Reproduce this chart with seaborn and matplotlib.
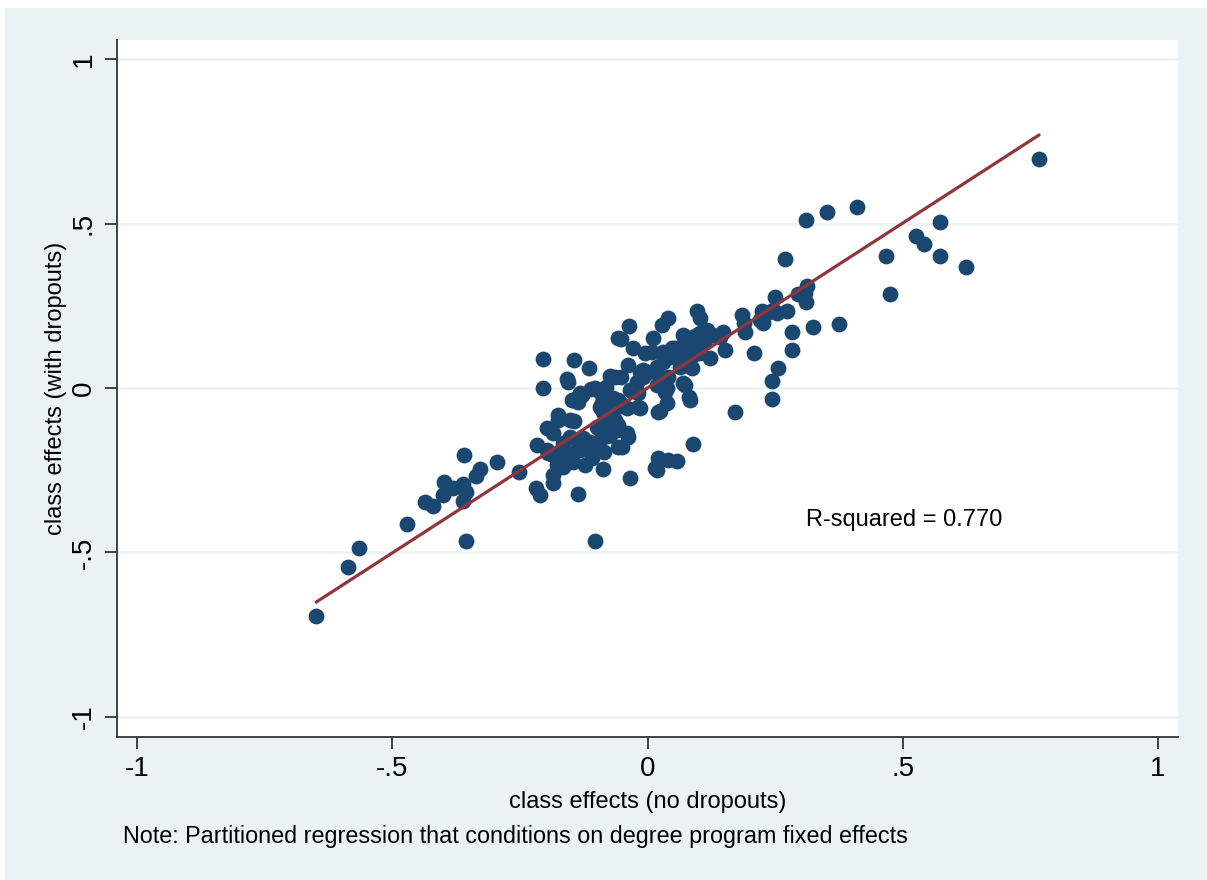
import numpy as np
import pandas as pd
import matplotlib
matplotlib.use("Agg")
import matplotlib.pyplot as plt
from matplotlib.patches import Rectangle
import seaborn as sns

# class effects estimated without / with dropouts
no_dropouts = [
    -0.649, -0.587, -0.565, -0.471, -0.436, -0.420, -0.399, -0.401, -0.381, -0.361,
    -0.356, -0.361, -0.359, -0.356, -0.336, -0.328, -0.295, -0.252, -0.216, -0.218,
    -0.211, -0.197, -0.195, -0.205, -0.205, -0.144, -0.115, -0.158, -0.156, -0.132,
    -0.148, -0.138, -0.111, -0.093, -0.081, -0.073, -0.064, -0.052, -0.038, -0.058,
    -0.052, -0.036, -0.028, 0.011, 0.028, 0.040, 0.097, 0.103, 0.185, 0.191,
    0.209, 0.244, 0.244, 0.256, 0.171, 0.089, 0.021, 0.040, 0.058, 0.019,
    0.015, -0.034, -0.103, -0.136, -0.087, -0.085, -0.185, -0.185, -0.185, -0.175,
    -0.175, -0.152, -0.144, -0.087, -0.079, -0.040, -0.038, -0.058, -0.050, -0.064,
    -0.058, -0.060, -0.073, -0.093, -0.087, -0.079, -0.093, -0.099, -0.015, -0.019,
    0.024, 0.038, 0.073, 0.081, 0.034, 0.034, -0.021, -0.015, -0.009, -0.005,
    0.009, 0.030, 0.048, 0.058, 0.073, 0.089, 0.103, 0.117, 0.128, 0.142,
    0.148, 0.089, 0.103, 0.122, 0.152, 0.064, 0.077, 0.087, 0.019, 0.024,
    0.030, 0.040, 0.220, 0.234, 0.246, 0.226, 0.767, 0.410, 0.352, 0.310,
    0.573, 0.526, 0.542, 0.573, 0.624, 0.467, 0.475, 0.269, 0.312, 0.309,
    0.295, 0.310, 0.250, 0.273, 0.254, 0.224, 0.189, 0.283, 0.324, 0.375,
    0.283, -0.166, -0.152, -0.138, -0.126, -0.113, -0.107, -0.119, -0.132, -0.146,
    -0.158, -0.171, -0.185, -0.166, -0.146, -0.122, -0.109, -0.166, -0.177, -0.191,
    -0.197, -0.146, -0.136, -0.089, -0.077, -0.064, -0.058, -0.060, -0.073, -0.019,
    0.083, -0.103, -0.087, -0.128, -0.068, -0.054, -0.040, -0.034, 0.000, 0.019,
    0.030, 0.044, 0.064, 0.083, 0.093, -0.009, 0.038, 0.024, 0.070, 0.021,
    0.054, 0.077, 0.097, 0.093, 0.113, 0.083, 0.103, 0.070,
]
with_dropouts = [
    -0.693, -0.544, -0.486, -0.413, -0.347, -0.359, -0.286, -0.325, -0.304, -0.292,
    -0.316, -0.344, -0.204, -0.465, -0.268, -0.246, -0.225, -0.255, -0.173, -0.304,
    -0.325, -0.122, -0.198, 0.088, 0.000, 0.085, 0.061, 0.027, 0.018, -0.015,
    -0.036, -0.030, -0.003, -0.012, 0.003, 0.036, 0.033, 0.033, 0.070, 0.152,
    0.149, 0.188, 0.122, 0.152, 0.192, 0.213, 0.234, 0.213, 0.222, 0.170,
    0.106, 0.021, -0.033, 0.061, -0.073, -0.170, -0.213, -0.219, -0.222, -0.249,
    -0.243, -0.274, -0.465, -0.322, -0.246, -0.195, -0.265, -0.289, -0.137, -0.082,
    -0.097, -0.097, -0.100, -0.149, -0.146, -0.137, -0.149, -0.179, -0.179, -0.122,
    -0.036, -0.058, -0.076, -0.058, -0.073, -0.097, -0.128, -0.119, -0.061, -0.015,
    -0.070, -0.046, 0.009, -0.027, -0.012, 0.003, 0.018, 0.049, 0.055, 0.106,
    0.109, 0.109, 0.122, 0.119, 0.146, 0.155, 0.167, 0.176, 0.161, 0.155,
    0.170, 0.100, 0.106, 0.091, 0.116, 0.064, 0.070, 0.061, 0.009, 0.024,
    0.024, 0.033, 0.207, 0.228, 0.237, 0.198, 0.697, 0.551, 0.535, 0.511,
    0.505, 0.463, 0.438, 0.402, 0.368, 0.402, 0.286, 0.392, 0.310, 0.289,
    0.286, 0.261, 0.277, 0.234, 0.228, 0.234, 0.198, 0.170, 0.185, 0.195,
    0.116, -0.167, -0.149, -0.158, -0.152, -0.164, -0.173, -0.182, -0.188, -0.198,
    -0.210, -0.198, -0.204, -0.225, -0.225, -0.234, -0.213, -0.240, -0.234, -0.198,
    -0.188, -0.036, -0.043, -0.046, -0.106, -0.097, -0.112, -0.128, -0.143, -0.058,
    -0.036, 0.000, -0.036, -0.021, -0.030, -0.046, -0.061, -0.006, 0.049, 0.064,
    0.079, 0.094, 0.094, 0.100, 0.106, 0.033, 0.000, 0.015, 0.015, -0.073,
    0.122, 0.146, 0.161, 0.140, 0.146, 0.125, 0.131, 0.161,
]
# fitted line of the partitioned regression, as drawn in the figure
fit_slope = 1.003
fit_intercept = 0.0
tick_values = [-1, -0.5, 0, 0.5, 1]
tick_labels = ["-1", "-.5", "0", ".5", "1"]
r2_text = "R-squared = 0.770"
note_text = "Note: Partitioned regression that conditions on degree program fixed effects"

df = pd.DataFrame({"no_dropouts": no_dropouts, "with_dropouts": with_dropouts})
fit_x = np.array([df["no_dropouts"].min(), df["no_dropouts"].max()])
fit = pd.DataFrame({"x": fit_x, "y": fit_intercept + fit_slope * fit_x})

sns.set_theme(style="white")
plt.rcParams["font.family"] = ["Liberation Sans", "DejaVu Sans"]

W, H = 1207, 880
fig = plt.figure(figsize=(W / 100, H / 100), dpi=100)
fig.patch.set_facecolor("white")
fig.patches.append(Rectangle((5 / W, 0), 1 - 5 / W, 1 - 8 / H, transform=fig.transFigure,
                             facecolor="#EAF2F3", edgecolor="none", zorder=-1))

ax = fig.add_axes([117 / W, 1 - 737 / H, (1178 - 117) / W, (737 - 40) / H])
ax.set_facecolor("white")

sns.scatterplot(data=df, x="no_dropouts", y="with_dropouts", color="#1A476F",
                s=130, linewidth=0, ax=ax, zorder=3)
sns.lineplot(data=fit, x="x", y="y", color="#90353B", lw=2.3, zorder=4, ax=ax)

ax.set_xlim(-1.039, 1.039)
ax.set_ylim(-1.061, 1.058)
ax.set_xticks(tick_values)
ax.set_xticklabels(tick_labels)
ax.set_yticks(tick_values)
ax.set_yticklabels(tick_labels, rotation=90, va="center")

ax.yaxis.grid(True, color="#EAF2F3", lw=1.8)
ax.xaxis.grid(False)
ax.set_axisbelow(True)

for side in ["top", "right"]:
    ax.spines[side].set_visible(False)
for side in ["left", "bottom"]:
    ax.spines[side].set_color("#333333")
    ax.spines[side].set_linewidth(1.3)

ax.tick_params(axis="both", direction="out", length=8.5, width=1.3, color="#333333",
               labelsize=20, labelcolor="black", left=True, bottom=True)
ax.tick_params(axis="x", pad=5)
ax.tick_params(axis="y", pad=6)

ax.set_xlabel("class effects (no dropouts)", fontsize=17, labelpad=7, color="black")
ax.set_ylabel("class effects (with dropouts)", fontsize=17, labelpad=3, color="black")

ax.text(0.31, -0.40, r2_text, fontsize=17, ha="left", va="center", color="black")
fig.text(123 / W, 1 - 836 / H, note_text, fontsize=16.8, ha="left", va="center", color="black")

fig.savefig("out.png", dpi=100)
